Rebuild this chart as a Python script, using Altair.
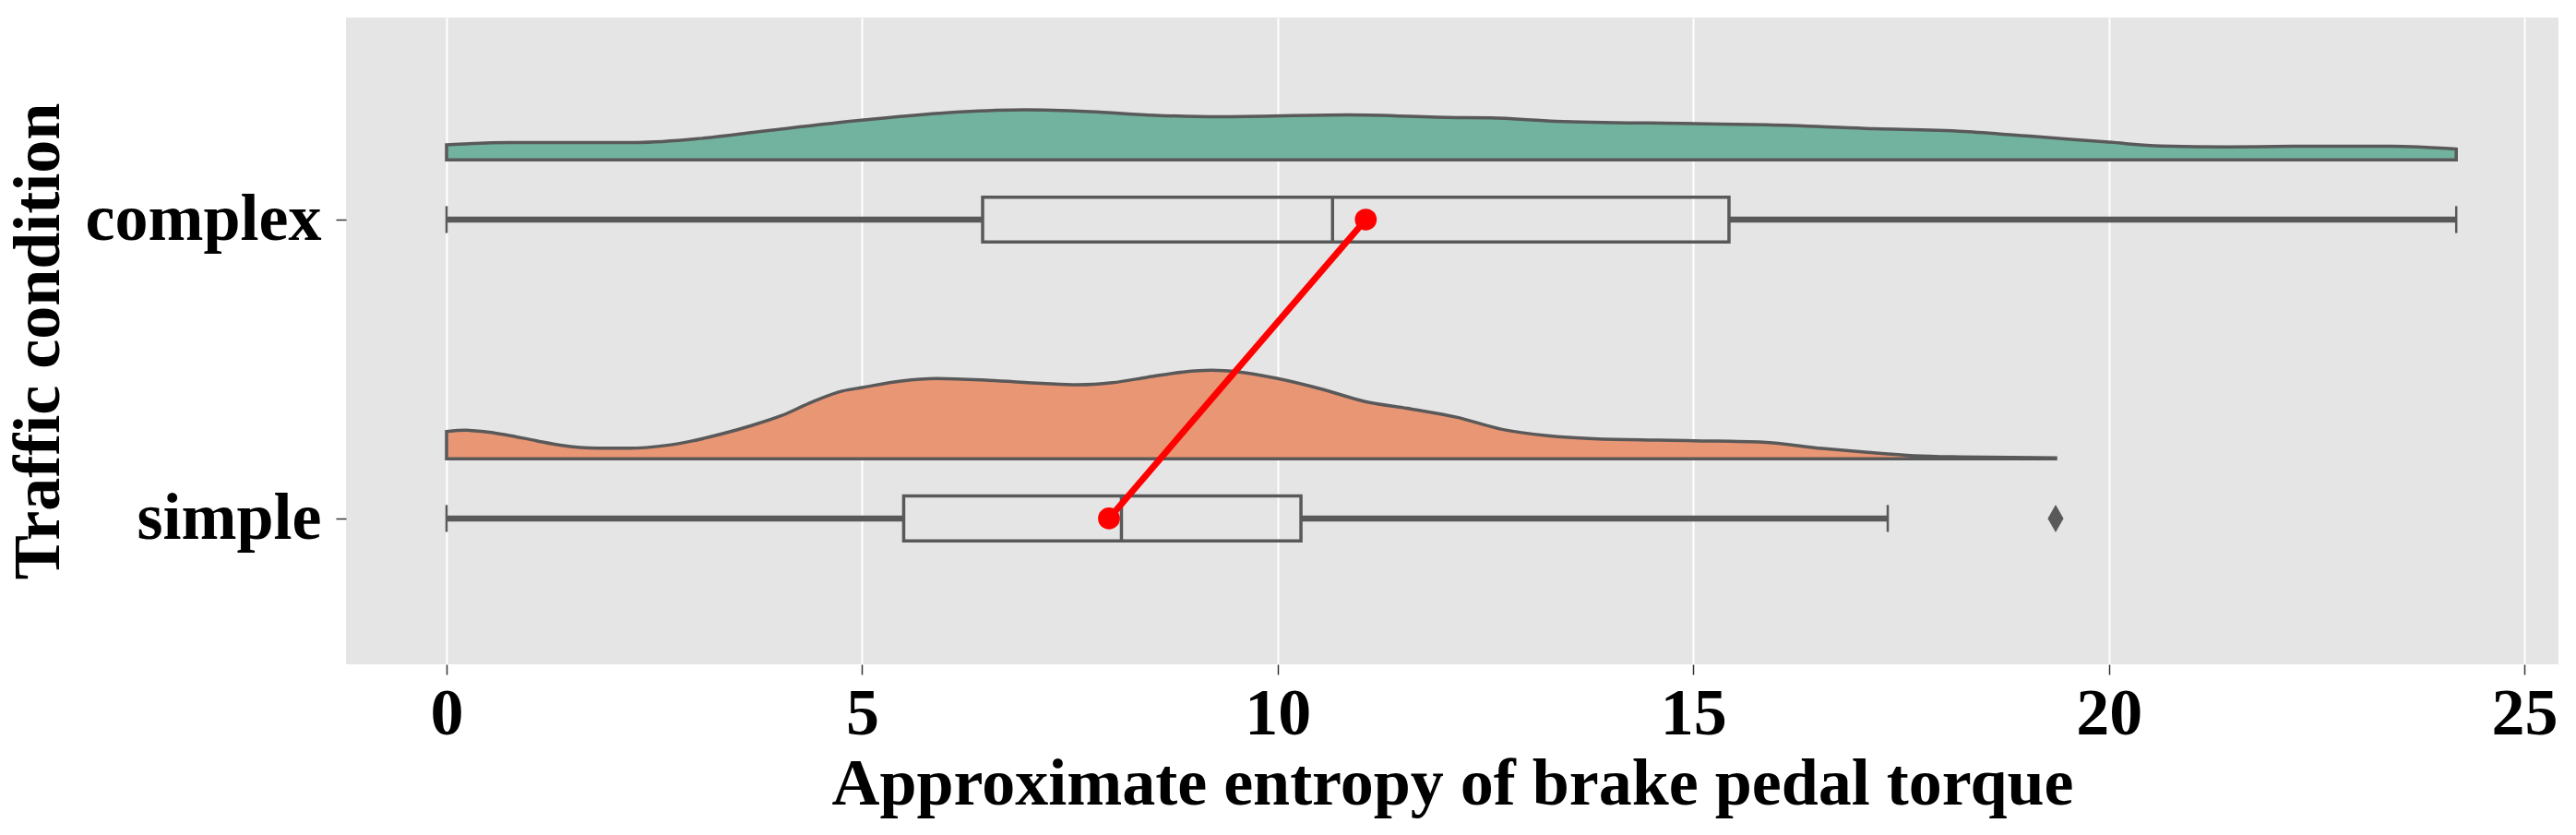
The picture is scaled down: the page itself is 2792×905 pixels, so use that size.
import altair as alt
import pandas as pd

# ---------------- data ----------------
categories = ["simple", "complex"]
cat_index = [1, 2]

whisker_low = [0.0, 0.0]
q1 = [5.50, 6.45]
medians = [8.12, 10.66]
q3 = [10.28, 15.43]
whisker_high = [17.34, 24.18]
means = [7.97, 11.06]

outlier_cat = ["simple"]
outlier_val = [19.36]

complex_x = [0.0, 0.75, 2.3, 3.08, 3.85, 5.02, 6.18, 6.96, 7.74, 8.52, 9.29, 10.85,
             12.15, 12.56, 13.35, 15.02, 15.89, 17.07, 18.26, 19.05, 20.0, 20.63,
             21.42, 22.21, 23.4, 24.18]
complex_d = [0.050, 0.058, 0.058, 0.072, 0.097, 0.133, 0.160, 0.167, 0.161, 0.149,
             0.144, 0.150, 0.141, 0.140, 0.129, 0.121, 0.117, 0.105, 0.095, 0.079,
             0.059, 0.046, 0.043, 0.045, 0.045, 0.036]

simple_x = [0.0, 0.23, 0.45, 0.71, 1.08, 1.37, 1.82, 2.19, 2.63, 2.93, 3.3, 3.66,
            4.03, 4.4, 4.76, 5.0, 5.47, 5.89, 6.53, 7.16, 7.59, 8.01, 8.44, 8.86,
            9.2, 9.54, 10.0, 10.55, 11.04, 11.59, 12.15, 12.7, 13.25, 13.8, 15.0,
            15.84, 16.55, 17.1, 17.66, 18.21, 19.36]
simple_d = [0.091, 0.095, 0.091, 0.080, 0.060, 0.045, 0.035, 0.035, 0.044, 0.058,
            0.082, 0.110, 0.144, 0.190, 0.226, 0.238, 0.260, 0.268, 0.262, 0.252,
            0.247, 0.254, 0.273, 0.290, 0.296, 0.290, 0.268, 0.231, 0.192, 0.167,
            0.139, 0.098, 0.077, 0.067, 0.060, 0.055, 0.034, 0.021, 0.010, 0.006,
            0.003]

fill_colors = ["#E99675", "#72B39F"]  # simple, complex

DENS_OFFSET = 0.2
BOX_HALF = 0.075
CAP_HALF = 0.045
EDGE = "#595959"
FONT = "Liberation Serif"

idx = dict(zip(categories, cat_index))

# ---------------- tables ----------------
dens_rows = []
for c, xs, ds in [("complex", complex_x, complex_d), ("simple", simple_x, simple_d)]:
    base = idx[c] + DENS_OFFSET
    for xv, dv in zip(xs, ds):
        dens_rows.append({"cat": c, "x": xv, "base": base, "top": base + dv})
dens = pd.DataFrame(dens_rows)

box = pd.DataFrame({
    "cat": categories,
    "pos": cat_index,
    "lo": whisker_low,
    "q1": q1,
    "med": medians,
    "q3": q3,
    "hi": whisker_high,
    "mean": means,
})
box["ylo"] = box["pos"] - BOX_HALF
box["yhi"] = box["pos"] + BOX_HALF
box["clo"] = box["pos"] - CAP_HALF
box["chi"] = box["pos"] + CAP_HALF

outl = pd.DataFrame({"cat": outlier_cat, "val": outlier_val})
outl["pos"] = outl["cat"].map(idx)

xscale = alt.Scale(domain=[-1.21, 25.41], nice=False, zero=False)
yscale = alt.Scale(domain=[0.512, 2.676], nice=False, zero=False)

xaxis = alt.Axis(
    values=[0, 5, 10, 15, 20, 25], format="d", grid=True, gridColor="white",
    gridWidth=2, domain=False, tickColor="#333333", tickWidth=1.5, tickSize=11,
    labelFont=FONT, labelFontWeight="bold", labelFontSize=72, labelColor="black",
    labelBaseline="alphabetic", labelPadding=64,
    title="Approximate entropy of brake pedal torque", titleFont=FONT,
    titleFontWeight="bold", titleFontSize=72, titleColor="black",
    titleBaseline="alphabetic", titleY=151,
)
yaxis = alt.Axis(
    values=[1, 2], labelExpr="datum.value == 1 ? 'simple' : 'complex'",
    grid=False, domain=False, tickColor="#333333", tickWidth=1.5, tickSize=11,
    labelFont=FONT, labelFontWeight="bold", labelFontSize=72, labelColor="black",
    labelPadding=16, labelAlign="right", labelBaseline="middle", labelLimit=0,
    title="Traffic condition", titleFont=FONT, titleFontWeight="bold",
    titleFontSize=72, titleColor="black", titleAngle=270,
    titleBaseline="alphabetic", titleX=-312, titleY=350.5, titleLimit=0,
)

areas = alt.Chart(dens).mark_area(
    interpolate="monotone", orient="vertical", stroke=EDGE, strokeWidth=3.5,
    fillOpacity=1
).encode(
    x=alt.X("x:Q", scale=xscale, axis=xaxis),
    y=alt.Y("top:Q", scale=yscale, axis=yaxis),
    y2="base:Q",
    color=alt.Color("cat:N", scale=alt.Scale(domain=categories, range=fill_colors), legend=None),
)

w_low = alt.Chart(box).mark_rule(color=EDGE, strokeWidth=6.5).encode(
    x="lo:Q", x2="q1:Q", y="pos:Q")
w_high = alt.Chart(box).mark_rule(color=EDGE, strokeWidth=6.5).encode(
    x="q3:Q", x2="hi:Q", y="pos:Q")
cap_lo = alt.Chart(box).mark_rule(color=EDGE, strokeWidth=2.5).encode(
    x="lo:Q", y="clo:Q", y2="chi:Q")
cap_hi = alt.Chart(box).mark_rule(color=EDGE, strokeWidth=2.5).encode(
    x="hi:Q", y="clo:Q", y2="chi:Q")
rect = alt.Chart(box).mark_rect(fillOpacity=0, stroke=EDGE, strokeWidth=3.5).encode(
    x="q1:Q", x2="q3:Q", y="ylo:Q", y2="yhi:Q")
med = alt.Chart(box).mark_rule(color=EDGE, strokeWidth=3.5).encode(
    x="med:Q", y="ylo:Q", y2="yhi:Q")
outp = alt.Chart(outl).mark_point(
    shape="M0,-1L0.57,0L0,1L-0.57,0Z", filled=True, color=EDGE, opacity=1, size=900
).encode(x="val:Q", y="pos:Q")
mline = alt.Chart(box).mark_line(color="#FF0000", strokeWidth=7).encode(
    x="mean:Q", y="pos:Q", order="pos:Q")
mpts = alt.Chart(box).mark_point(filled=True, color="#FF0000", opacity=1, size=560).encode(
    x="mean:Q", y="pos:Q")

chart = alt.layer(areas, w_low, w_high, cap_lo, cap_hi, rect, med, outp, mline, mpts).properties(
    width=2398, height=701,
    autosize=alt.AutoSizeParams(type="none"),
    padding={"left": 367, "top": 11, "right": 10, "bottom": 170},
    background="white",
).configure_view(fill="#E5E5E5", stroke=None)

chart.save("out.html", embed_options={"renderer": "svg", "actions": False})
